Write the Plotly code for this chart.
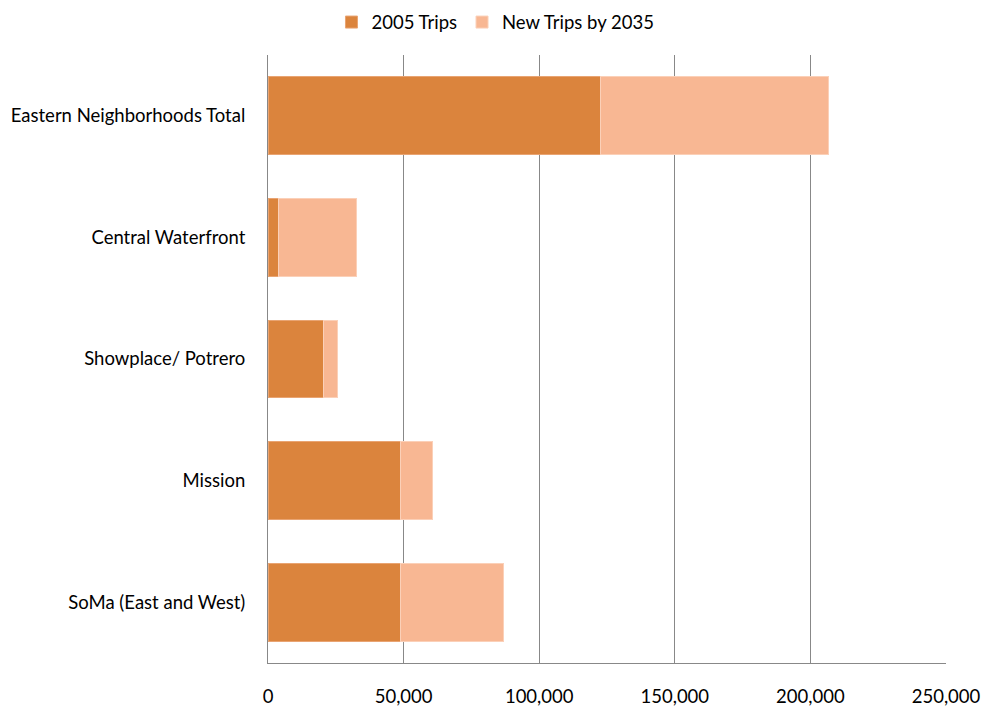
import plotly.graph_objects as go

# Trip counts by neighborhood (bottom-to-top order on the chart)
areas = [
    "SoMa (East and West)",
    "Mission",
    "Showplace/ Potrero",
    "Central Waterfront",
    "Eastern Neighborhoods Total",
]
trips_2005 = [48800, 48800, 20400, 3800, 122500]
new_trips_2035 = [38100, 12000, 5400, 28800, 84300]

x_ticks = [0, 50000, 100000, 150000, 200000, 250000]
x_tick_text = ["0", "50,000", "100,000", "150,000", "200,000", "250,000"]

FONT = "Lato, 'Open Sans', sans-serif"

fig = go.Figure()
fig.add_trace(go.Bar(
    y=areas, x=trips_2005, name="2005 Trips", orientation="h",
    marker=dict(color="#DB843D", line=dict(color="#E9A472", width=1)),
))
fig.add_trace(go.Bar(
    y=areas, x=new_trips_2035, name="New Trips by 2035", orientation="h",
    marker=dict(color="#F8B793", line=dict(color="#FBD0B8", width=1)),
))

fig.update_layout(
    width=987, height=709,
    barmode="stack", bargap=0.36,
    paper_bgcolor="white", plot_bgcolor="white",
    margin=dict(l=268, r=41, t=55, b=46, autoexpand=False),
    font=dict(family=FONT, size=18.5, color="#000000"),
    showlegend=True,
    legend=dict(
        orientation="h", xref="container", yref="container",
        x=0.502, xanchor="center", y=0.995, yanchor="top",
        font=dict(family=FONT, size=18.5, color="#000000"),
        traceorder="normal", itemwidth=30,
    ),
    xaxis=dict(
        range=[0, 250000], tickvals=x_ticks, ticktext=x_tick_text,
        showgrid=True, gridcolor="#888888", gridwidth=1,
        showline=True, linecolor="#888888", linewidth=1,
        zeroline=False, ticks="", ticklabelstandoff=17, automargin=False,
        tickfont=dict(family=FONT, size=18.5),
    ),
    yaxis=dict(
        showgrid=False, zeroline=False,
        showline=True, linecolor="#888888", linewidth=1,
        ticks="", ticklabelstandoff=18, automargin=False,
        tickfont=dict(family=FONT, size=18.5),
    ),
)

fig.write_html("out.html")
